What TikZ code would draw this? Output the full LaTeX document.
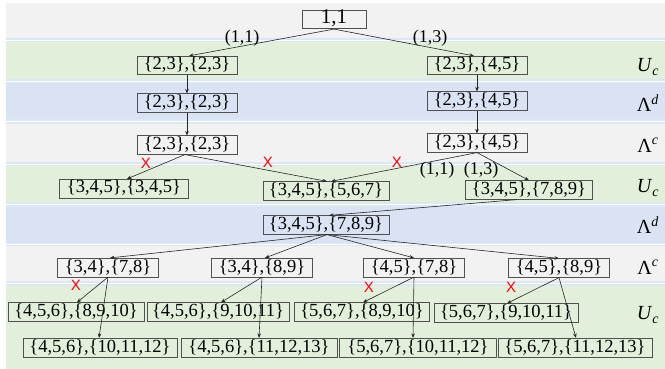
\documentclass[tikz,border=0pt]{standalone}
\usepackage{fontspec}
\setmainfont{Liberation Serif}
\newfontfamily\xfont{Liberation Sans}
\usetikzlibrary{arrows.meta}
\definecolor{bandgrey}{HTML}{F2F2F2}
\definecolor{bandgreen}{HTML}{E2EFDA}
\definecolor{bandblue}{HTML}{DAE3F3}
\definecolor{bandsep}{HTML}{DCE7F5}
\definecolor{boxline}{HTML}{505050}
\tikzset{
  state/.style={draw=boxline, line width=0.6pt, inner xsep=4pt, inner ysep=0.8pt,
    minimum width=#1, text height=13pt, text depth=4pt,
    font=\fontsize{18.5}{18.5}\selectfont},
  state/.default=100pt,
  arr/.style={-{Stealth[length=4.5pt,width=3.6pt]}, line width=0.6pt, draw=black!85},
  elabel/.style={inner sep=0pt, font=\fontsize{18}{18}\selectfont},
  cut/.style={inner sep=0pt, text=red, font=\xfont\fontsize{15}{15}\selectfont},
  rowlabel/.style={inner sep=0pt, font=\fontsize{20}{20}\selectfont}
}
\newcommand{\bandrow}[3]{\fill[#1] (6,#2) rectangle (665,#3);}
\newcommand{\seprow}[2]{\fill[bandsep] (6,#1) rectangle (665,#2);
  \draw[white, line width=0.8pt] (6,{(#1+#2)/2}) -- (665,{(#1+#2)/2});}
\begin{document}
\begin{tikzpicture}[x=1pt,y=-1pt]
\useasboundingbox (0,0) rectangle (665,369);
% horizontal bands of the stages
\bandrow{bandgrey}{3}{38}
\seprow{38}{42}
\bandrow{bandgreen}{42}{79}
\seprow{79}{83}
\bandrow{bandblue}{83}{119}
\seprow{119}{124}
\bandrow{bandgrey}{124}{162}
\seprow{162}{166}
\bandrow{bandgreen}{166}{202}
\seprow{202}{207}
\bandrow{bandblue}{207}{243}
\seprow{243}{246}
\bandrow{bandgrey}{246}{281}
\seprow{281}{286}
\bandrow{bandgreen}{286}{369}

% stage labels
\node[rowlabel] (l1) at (648,67) {\textit{U}\textsubscript{\textit{c}}};
\node[rowlabel] (l2) at (648,103) {Λ\textsuperscript{\textit{d}}};
\node[rowlabel] (l3) at (648,145) {Λ\textsuperscript{\textit{c}}};
\node[rowlabel] (l4) at (648,188) {\textit{U}\textsubscript{\textit{c}}};
\node[rowlabel] (l5) at (648,225) {Λ\textsuperscript{\textit{d}}};
\node[rowlabel] (l6) at (648,267) {Λ\textsuperscript{\textit{c}}};
\node[rowlabel] (l7) at (648,315) {\textit{U}\textsubscript{\textit{c}}};

% states
\node[state=64pt, font=\fontsize{21}{21}\selectfont] (r) at (334,19.5) {1,1};
\node[state] (a1) at (187,65.5) {\{2,3\},\{2,3\}};
\node[state] (b1) at (477,65.5) {\{2,3\},\{4,5\}};
\node[state] (a2) at (187,103) {\{2,3\},\{2,3\}};
\node[state] (b2) at (477,101) {\{2,3\},\{4,5\}};
\node[state] (a3) at (187,145) {\{2,3\},\{2,3\}};
\node[state] (b3) at (477,143) {\{2,3\},\{4,5\}};
\node[state=129pt] (c1) at (124,188.5) {\{3,4,5\},\{3,4,5\}};
\node[state=126pt] (c2) at (326,191) {\{3,4,5\},\{5,6,7\}};
\node[state=127pt] (c3) at (529,190) {\{3,4,5\},\{7,8,9\}};
\node[state=126pt] (d) at (326,225) {\{3,4,5\},\{7,8,9\}};
\node[state=101pt] (e1) at (108,267.5) {\{3,4\},\{7,8\}};
\node[state=101pt] (e2) at (262,267.5) {\{3,4\},\{8,9\}};
\node[state=101pt] (e3) at (414,267.5) {\{4,5\},\{7,8\}};
\node[state=101pt] (e4) at (559,268) {\{4,5\},\{8,9\}};
\node[state=136pt] (f1) at (76,312) {\{4,5,6\},\{8,9,10\}};
\node[state=142pt] (f2) at (218,312) {\{4,5,6\},\{9,10,11\}};
\node[state=135pt] (f3) at (362,312) {\{5,6,7\},\{8,9,10\}};
\node[state=144pt] (f4) at (506,313) {\{5,6,7\},\{9,10,11\}};
\node[state=154pt] (g1) at (100,347.5) {\{4,5,6\},\{10,11,12\}};
\node[state=156pt] (g2) at (259,347.5) {\{4,5,6\},\{11,12,13\}};
\node[state=157pt] (g3) at (418,347.5) {\{5,6,7\},\{10,11,12\}};
\node[state=154pt] (g4) at (575,347.5) {\{5,6,7\},\{11,12,13\}};

% transitions
\draw[arr] (r.south) -- ([xshift=2pt]a1.north);
\draw[arr] (r.south) -- ([xshift=-3pt]b1.north);
\draw[arr] (a1) -- (a2);
\draw[arr] (b1) -- (b2);
\draw[arr] (a2) -- (a3);
\draw[arr] (b2) -- (b3);
\draw[arr] ([xshift=-2pt]a3.south) -- ([xshift=3pt]c1.north);
\draw[arr] ([xshift=-2pt]a3.south) -- ([xshift=1pt]c2.north);
\draw[arr] (b3.south) -- ([xshift=5pt]c2.north);
\draw[arr] (b3.south) -- (c3.north);
\draw[arr] ([xshift=-12pt]c3.south) -- ([xshift=3pt]d.north);
\draw[arr] ([xshift=1pt]d.south) -- ([xshift=2pt]e1.north);
\draw[arr] ([xshift=1pt]d.south) -- ([xshift=3pt]e2.north);
\draw[arr] ([xshift=1pt]d.south) -- (e3.north);
\draw[arr] ([xshift=1pt]d.south) -- (e4.north);
\draw[arr] (e1.south) -- ([xshift=1pt]f1.north);
\draw[arr] (e1.south) -- ([xshift=-1pt]g1.north);
\draw[arr] (e2.south) -- ([xshift=3pt]f2.north);
\draw[arr] (e2.south) -- (g2.north);
\draw[arr] (e3.south) -- ([xshift=1pt]f3.north);
\draw[arr] (e3.south) -- ([xshift=-5pt]g3.north);
\draw[arr] (e4.south) -- ([xshift=1pt]f4.north);
\draw[arr] (e4.south) -- ([xshift=1pt]g4.north);

% transition labels
\node[elabel] (t1) at (242,38) {(1,1)};
\node[elabel] (t2) at (430,38) {(1,3)};
\node[elabel] (t3) at (437,170) {(1,1)};
\node[elabel] (t4) at (481,170) {(1,3)};

% pruned transitions
\node[cut] (x1) at (146,163) {X};
\node[cut] (x2) at (268,162) {X};
\node[cut] (x3) at (397,162) {X};
\node[cut] (x4) at (76,285) {X};
\node[cut] (x5) at (369,287) {X};
\node[cut] (x6) at (511,287) {X};
\end{tikzpicture}
\end{document}
